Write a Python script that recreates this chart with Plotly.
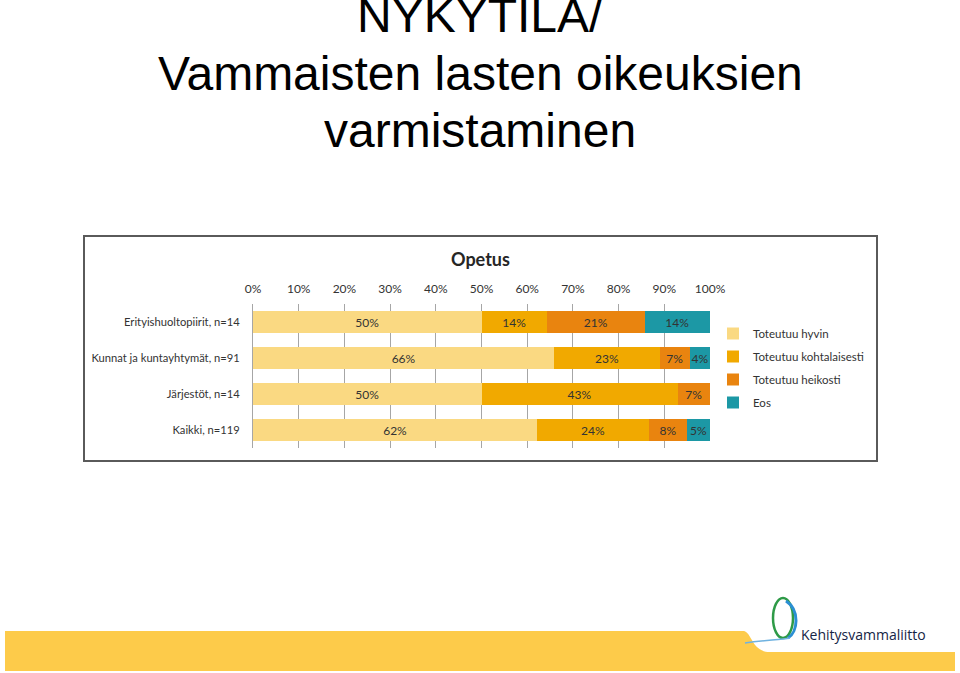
import plotly.graph_objects as go

categories = ["Erityishuoltopiirit, n=14", "Kunnat ja kuntayhtymät, n=91", "Järjestöt, n=14", "Kaikki, n=119"]
series_names = ["Toteutuu hyvin", "Toteutuu kohtalaisesti", "Toteutuu heikosti", "Eos"]
hyvin = [50.0, 65.9, 50.0, 62.2]
kohtalaisesti = [14.3, 23.1, 42.9, 24.4]
heikosti = [21.4, 6.6, 7.1, 8.4]
eos = [14.3, 4.4, None, 5.0]
tick_vals = [0, 10, 20, 30, 40, 50, 60, 70, 80, 90, 100]
tick_text = ["0%", "10%", "20%", "30%", "40%", "50%", "60%", "70%", "80%", "90%", "100%"]
colors = ["#FAD982", "#F1A900", "#E9840F", "#1C98A5"]

W, H = 960, 673
def px(x): return x / W
def py(y): return 1 - y / H

chart_font = "Lato, 'Open Sans', sans-serif"
txt_col = "#333333"
fig = go.Figure()
for name, vals, col in zip(series_names, [hyvin, kohtalaisesti, heikosti, eos], colors):
    fig.add_trace(go.Bar(
        y=categories, x=vals, name=name, orientation="h",
        marker=dict(color=col, line=dict(width=0)),
        text=[(f"{v:.0f}%" if v is not None else "") for v in vals],
        textposition="inside", insidetextanchor="middle", textangle=0,
        textfont=dict(size=12, color=txt_col, family=chart_font),
        legendgroup=name,
    ))

fig.update_layout(
    width=W, height=H, margin=dict(l=0, r=0, t=0, b=0, autoexpand=False),
    paper_bgcolor="white", plot_bgcolor="white",
    barmode="stack", bargap=0.39,
    uniformtext=dict(minsize=12, mode="show"),
    font=dict(family=chart_font, color=txt_col, size=12),
    xaxis=dict(domain=[px(253), px(710)], range=[0, 100], side="top",
               tickvals=tick_vals, ticktext=tick_text, showgrid=True,
               gridcolor="#A6A6A6", gridwidth=1, zeroline=False,
               showline=False, ticks="", ticklabelstandoff=8, automargin=False,
               tickfont=dict(size=12, color=txt_col), fixedrange=True),
    yaxis=dict(domain=[py(448), py(304)], autorange="reversed",
               showline=True, linecolor="#A6A6A6", linewidth=1, automargin=False,
               ticks="", ticklabelstandoff=10, showgrid=False,
               tickfont=dict(size=11.2, color=txt_col)),
    legend=dict(x=px(713), y=py(319), xanchor="left", yanchor="top",
                traceorder="grouped", tracegroupgap=4,
                font=dict(size=11.5, color=txt_col),
                bgcolor="rgba(0,0,0,0)"),
    showlegend=True,
)

shapes = []
shapes.append(dict(type="rect", xref="paper", yref="paper", x0=px(84), x1=px(877),
                   y0=py(461), y1=py(236), line=dict(color="#5A5A5A", width=2),
                   fillcolor="rgba(0,0,0,0)", layer="below"))
shapes.append(dict(type="rect", xref="paper", yref="paper", x0=px(5), x1=px(955),
                   y0=py(671), y1=py(631), line=dict(width=0), fillcolor="#FDCB4A", layer="below"))
path = (f"M {px(744)},{py(631)} C {px(752)},{py(633)} {px(752)},{py(652)} {px(770)},{py(652)} "
        f"L {px(955)},{py(652)} L {px(955)},{py(631)} Z")
shapes.append(dict(type="path", xref="paper", yref="paper", path=path,
                   fillcolor="white", line=dict(width=0), layer="below"))
shapes.append(dict(type="circle", xref="paper", yref="paper", x0=px(773), x1=px(793),
                   y0=py(638), y1=py(598), line=dict(color="#2E9A47", width=2.5)))
shapes.append(dict(type="path", xref="paper", yref="paper",
                   path=f"M {px(786)},{py(601)} C {px(800)},{py(610)} {px(798)},{py(632)} {px(788)},{py(638)}",
                   line=dict(color="#2B8FD3", width=3)))
shapes.append(dict(type="path", xref="paper", yref="paper",
                   path=f"M {px(745)},{py(643)} C {px(765)},{py(640)} {px(780)},{py(640)} {px(790)},{py(638)}",
                   line=dict(color="#6FB2E0", width=1.5)))
fig.update_layout(shapes=shapes)

title_font = "'Liberation Sans', Arial, sans-serif"
ann = []
for txt, yc in [("NYKYTILA/", 15), ("Vammaisten lasten oikeuksien", 73), ("varmistaminen", 130)]:
    ann.append(dict(text=txt, x=0.5, y=py(yc), xref="paper", yref="paper",
                    xanchor="center", yanchor="middle", showarrow=False,
                    font=dict(family=title_font, size=48, color="black")))
ann.append(dict(text="<b>Opetus</b>", x=px(480), y=py(259), xref="paper", yref="paper",
                xanchor="center", yanchor="middle", showarrow=False,
                font=dict(family=chart_font, size=18, color="#262626")))
ann.append(dict(text="Kehitysvammaliitto", x=px(799), y=py(634), xref="paper", yref="paper",
                xanchor="left", yanchor="middle", showarrow=False,
                font=dict(family="'Open Sans', sans-serif", size=14, color="#152545")))
fig.update_layout(annotations=ann)

fig.write_html("out.html", config={"displayModeBar": False},
               post_script="document.body.style.margin='0';document.body.style.overflow='hidden';")
